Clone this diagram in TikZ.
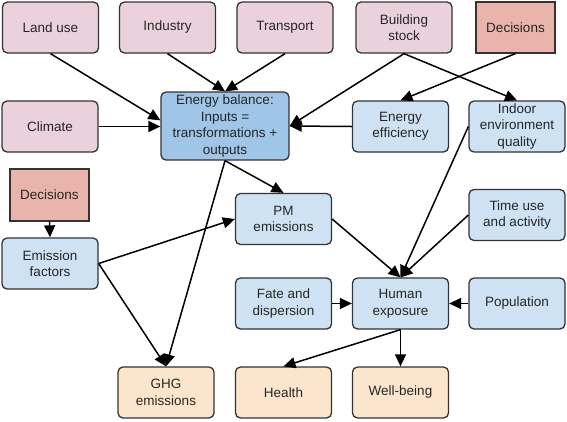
\documentclass[tikz,border=0pt]{standalone}
\usepackage{fontspec}
\setmainfont{Liberation Sans}
\usetikzlibrary{arrows.meta}
\definecolor{drivercol}{HTML}{EAD1DC}
\definecolor{decisioncol}{HTML}{E8B4AC}
\definecolor{midcol}{HTML}{CFE2F3}
\definecolor{balancecol}{HTML}{9FC5E8}
\definecolor{outcol}{HTML}{FCE5CD}
\definecolor{edgecol}{HTML}{333333}
\begin{document}
\begin{tikzpicture}[x=1pt,y=-1pt,
  box/.style={draw=edgecol, line width=1.3pt, rounded corners=5pt, minimum width=96pt, minimum height=51pt,
    align=center, inner sep=2pt, text=black!85, font=\fontsize{13.5}{16.5}\selectfont},
  driver/.style={box, fill=drivercol},
  decision/.style={box, fill=decisioncol, rounded corners=0pt, minimum width=79pt, line width=1.1pt},
  mid/.style={box, fill=midcol},
  outcome/.style={box, fill=outcol},
  link/.style={-{Triangle[length=12pt,width=11pt]}, line width=1.5pt, black}]
\useasboundingbox (0,0) rectangle (567,421);
\node[driver] (landuse) at (50.5,27.5) {Land use};
\node[driver] (industry) at (167.5,27.5) {Industry};
\node[driver] (transport) at (285,27.5) {Transport};
\node[driver] (building) at (404,27.5) {Building\\stock};
\node[decision] (decisionsA) at (515.5,27.5) {Decisions};
\node[driver] (climate) at (50,126.5) {Climate};
\node[box, fill=balancecol, minimum width=128pt, minimum height=68pt] (balance) at (225,126) {Energy balance:\\Inputs =\\transformations +\\outputs};
\node[mid] (efficiency) at (400.5,126.5) {Energy\\efficiency};
\node[mid] (indoor) at (517,126.5) {Indoor\\environment\\quality};
\node[decision, minimum height=52pt] (decisionsB) at (49.5,195) {Decisions};
\node[mid] (emission) at (50,263.5) {Emission\\factors};
\node[mid] (pm) at (283.5,219) {PM\\emissions};
\node[mid] (timeuse) at (517,215) {Time use\\and activity};
\node[mid] (fate) at (283.5,303.5) {Fate and\\dispersion};
\node[mid] (exposure) at (400.5,303.5) {Human\\exposure};
\node[mid] (population) at (517,303.5) {Population};
\node[outcome] (ghg) at (166,392.5) {GHG\\emissions};
\node[outcome] (health) at (283.5,392.5) {Health};
\node[outcome] (wellbeing) at (400.5,392.5) {Well-being};
\draw[link] (landuse.south) -- (balance.175);
\draw[link] (industry.south) -- (balance.north);
\draw[link] (transport.south) -- (balance.north);
\draw[link] (climate.east) -- (climate.east -| balance.west);
\draw[link] (building.south) -- (balance.east);
\draw[link] (building.south) -- (indoor.north);
\draw[link] (decisionsA.south) -- (efficiency.north);
\draw[link] (efficiency.west) -- (balance.east);
\draw[link] (indoor.west) -- (exposure.north);
\draw[link] (balance.south) -- (pm.north);
\draw[link] (balance.south) -- (ghg.north);
\draw[link] (decisionsB.south) -- (emission.north);
\draw[link] (emission.east) -- (pm.west);
\draw[link] (emission.east) -- (ghg.north);
\draw[link] (pm.east) -- (exposure.north);
\draw[link] (timeuse.west) -- (exposure.north);
\draw[link] (fate.east) -- (exposure.west);
\draw[link] (population.west) -- (exposure.east);
\draw[link] (exposure.south) -- (health.north);
\draw[link] (exposure.south) -- (wellbeing.north);
\end{tikzpicture}
\end{document}
